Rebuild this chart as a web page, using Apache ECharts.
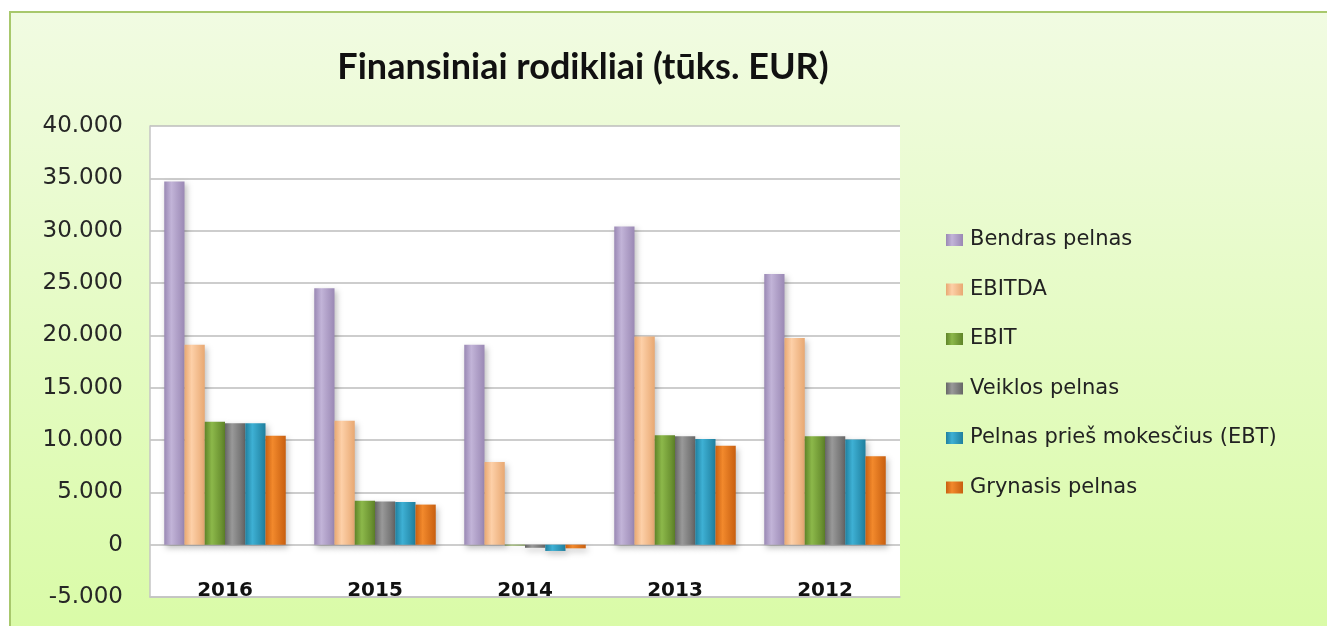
<!DOCTYPE html>
<html>
<head>
<meta charset="utf-8">
<script src="https://cdn.jsdelivr.net/npm/echarts@6/dist/echarts.min.js"></script>
<style>
  html, body { margin: 0; padding: 0; background: #fff; }
  #main { width: 1327px; height: 626px; }
</style>
</head>
<body>
<div id="main"></div>
<script type="text/javascript">
    // duomenys (tūks. EUR)
    var years = ['2016', '2015', '2014', '2013', '2012'];
    var seriesNames = ['Bendras pelnas', 'EBITDA', 'EBIT', 'Veiklos pelnas', 'Pelnas prieš mokesčius (EBT)', 'Grynasis pelnas'];
    var bendrasPelnas = [34700, 24500, 19100, 30400, 25850];
    var ebitda = [19100, 11850, 7900, 19900, 19750];
    var ebit = [11750, 4200, -80, 10450, 10350];
    var veiklosPelnas = [11600, 4130, -300, 10350, 10350];
    var pelnasPriesMokescius = [11600, 4070, -600, 10100, 10050];
    var grynasisPelnas = [10400, 3830, -350, 9450, 8450];

    // spalvos: [kraštas, vidurys]
    var colors = [
        ['#9a88b4', '#c2b4d8'],
        ['#e8a872', '#fdd0a8'],
        ['#5f8428', '#8cb84a'],
        ['#666666', '#999999'],
        ['#1f7f9e', '#3eb0d4'],
        ['#c85f10', '#f2892c']
    ];

    function barColor(c) {
        return new echarts.graphic.LinearGradient(0, 0, 1, 0, [
            { offset: 0, color: c[0] },
            { offset: 0.35, color: c[1] },
            { offset: 1, color: c[0] }
        ]);
    }

    function fmt(v) {
        var s = String(Math.abs(v)).replace(/\B(?=(\d{3})+(?!\d))/g, '.');
        return (v < 0 ? '-' : '') + s;
    }

    var allData = [bendrasPelnas, ebitda, ebit, veiklosPelnas, pelnasPriesMokescius, grynasisPelnas];

    var myChart = echarts.init(document.getElementById('main'));
    var option = {
        animation: false,
        graphic: [{
            type: 'rect',
            z: -10,
            shape: { x: 10, y: 12, width: 1330, height: 630 },
            style: {
                fill: new echarts.graphic.LinearGradient(0, 0, 0, 1, [
                    { offset: 0, color: '#f1fbe2' },
                    { offset: 1, color: '#d9fba6' }
                ]),
                stroke: '#a8c86c',
                lineWidth: 2
            }
        }],
        title: {
            text: 'Finansiniai rodikliai (tūks. EUR)',
            left: 583,
            top: 49,
            padding: 0,
            textAlign: 'center',
            textStyle: {
                fontFamily: 'Lato',
                fontWeight: 'bold',
                fontSize: 36,
                color: '#111'
            }
        },
        legend: {
            orient: 'vertical',
            left: 946,
            top: 229,
            padding: 0,
            itemWidth: 17,
            itemHeight: 12,
            itemGap: 27.5,
            icon: 'rect',
            data: seriesNames,
            textStyle: {
                fontFamily: 'DejaVu Sans',
                fontSize: 21,
                lineHeight: 22,
                color: '#222',
                padding: [0, 0, 0, 2]
            }
        },
        grid: {
            left: 150,
            top: 126,
            width: 750,
            height: 471,
            show: true,
            backgroundColor: '#ffffff',
            borderWidth: 0
        },
        xAxis: {
            type: 'category',
            data: years,
            axisLine: { onZero: false, lineStyle: { color: '#c4c4c4', width: 1.5 } },
            axisTick: { show: false },
            axisLabel: {
                inside: true,
                margin: -4,
                fontFamily: 'DejaVu Sans',
                fontWeight: 'bold',
                fontSize: 20,
                color: '#111'
            }
        },
        yAxis: {
            type: 'value',
            min: -5000,
            max: 40000,
            interval: 5000,
            axisLine: { show: true, lineStyle: { color: '#c4c4c4', width: 1.5 } },
            axisTick: { show: false },
            splitLine: { lineStyle: { color: '#bdbdbd', width: 1.5 } },
            axisLabel: {
                margin: 27,
                fontFamily: 'DejaVu Sans',
                fontSize: 23,
                color: '#262626',
                formatter: fmt
            }
        },
        series: seriesNames.map(function (name, i) {
            return {
                name: name,
                type: 'bar',
                data: allData[i],
                barGap: '0%',
                barCategoryGap: '19%',
                itemStyle: {
                    color: barColor(colors[i]),
                    shadowBlur: 6,
                    shadowOffsetX: 2,
                    shadowOffsetY: 3,
                    shadowColor: 'rgba(0,0,0,0.25)'
                }
            };
        })
    };

    myChart.setOption(option);
</script>
</body>
</html>
